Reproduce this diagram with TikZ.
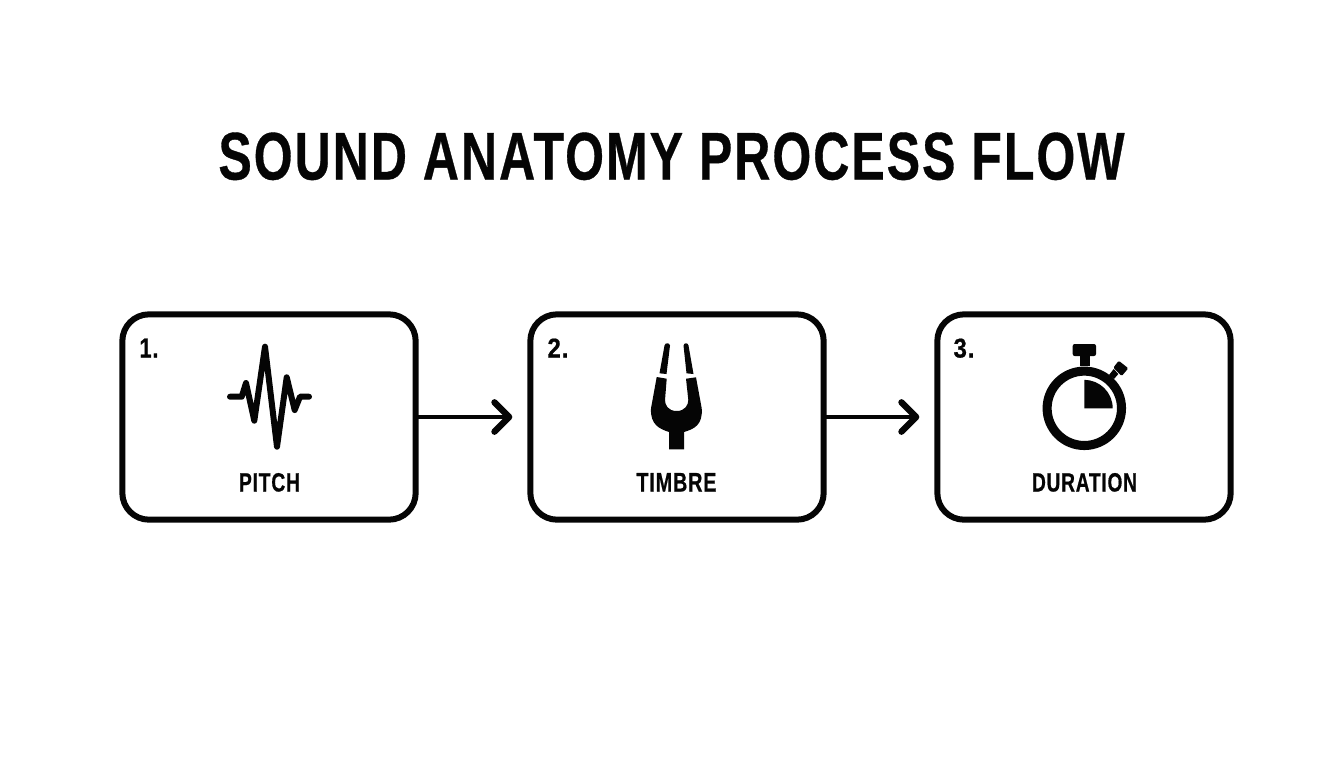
\documentclass[tikz,border=0pt]{standalone}
\usepackage{graphicx}
\usepackage{fontspec}
\setmainfont{Liberation Sans}
\usetikzlibrary{arrows.meta}
\newcommand{\fitbox}[3]{\resizebox{\dimexpr #1pt*3/4\relax}{\dimexpr #2pt*3/4\relax}{\addfontfeatures{LetterSpace=4,FakeBold=0.6}\bfseries #3}}
\definecolor{ink}{HTML}{050505}
\tikzset{
  stagebox/.style={draw=ink,line width=4.5pt,rounded corners=20pt,minimum width=220pt,minimum height=154pt,inner sep=0pt,outer sep=0pt},
  flowarrow/.style={draw=ink,line width=3.7pt,shorten >=13.5pt,-{Straight Barb[length=11pt,width=22pt,line width=4.8pt,round]}},
  txt/.style={inner sep=0pt,text=ink,anchor=base},
  icon/.style={fill=ink,draw=none},
  iconline/.style={draw=ink,line cap=round,line join=round}
}
\begin{document}
\begin{tikzpicture}[x=0.75pt,y=-0.75pt]
\useasboundingbox (0,0) rectangle (1344,768);
\fill[white] (0,0) rectangle (1344,768);
\node[txt] (title) at (671.5,179.5) {\fitbox{906}{47}{SOUND ANATOMY PROCESS FLOW}};
\node[stagebox] (b1) at (269,417) {};
\node[stagebox] (b2) at (677,417) {};
\node[stagebox] (b3) at (1084,417) {};
\draw[flowarrow] (b1.east) -- (b2.west);
\draw[flowarrow] (b2.east) -- (b3.west);
\node[txt] (n1) at (149,357.5) {\fitbox{19}{19}{1.}};
\node[txt] (n2) at (558,357.5) {\fitbox{21}{19}{2.}};
\node[txt] (n3) at (964,357.5) {\fitbox{21}{19}{3.}};
\node[txt] (l1) at (269.5,491.5) {\fitbox{61}{18.5}{PITCH}};
\node[txt] (l2) at (676.5,491.5) {\fitbox{80}{18.5}{TIMBRE}};
\node[txt] (l3) at (1084.5,491.5) {\fitbox{105}{18.5}{DURATION}};
% wave
\draw[iconline,line width=4.5pt] (230,396.7) -- (241.7,396.7) -- (246,383) -- (254.3,420.7) -- (265,346.7) -- (277,446.7) -- (286.7,377.3) -- (294.7,410) -- (300,396.7) -- (309,396.7);
% tuning fork
\fill[icon] (664.5,345.5) .. controls (665,342.5) and (669.5,342.5) .. (670,345.5) -- (666.5,374) -- (659.5,373.3) -- cycle;
\fill[icon] (683.5,345.5) .. controls (684,342.5) and (688,342.5) .. (688.5,345.5) -- (693.5,374) -- (686.5,373.3) -- cycle;
\fill[icon] (656.7,377) -- (651,408.3) .. controls (650,425) and (660,429) .. (669,432) -- (669,449.3) -- (684,449.3) -- (684,432) .. controls (694,429) and (703,425) .. (701.7,408.3) -- (696,377.3) -- (686,378.7) -- (688.3,400) .. controls (688.3,405) and (685,411) .. (676.7,411) .. controls (668,411) and (665,405) .. (665,400) -- (666.7,378.7) -- cycle;
% stopwatch
\draw[ink,line width=6.8pt] (1084.3,408.3) circle[radius=37.2];
\fill[ink,rounded corners=1.5pt] (1072.7,344) rectangle (1096,356);
\fill[ink] (1079.5,355) rectangle (1089.5,366);
\fill[ink] (1084.3,380) -- (1084.3,408.3) -- (1112.7,408.3) arc[start angle=0,end angle=-90,radius=28.4] -- cycle;
\fill[ink,rounded corners=1pt] (1118.7,360.7) -- (1128.3,368.3) -- (1121.7,376) -- (1113.3,367.7) -- cycle;
\fill[ink] (1113.7,369) -- (1118.3,374) -- (1114,379) -- (1109,375) -- cycle;
\end{tikzpicture}
\end{document}
